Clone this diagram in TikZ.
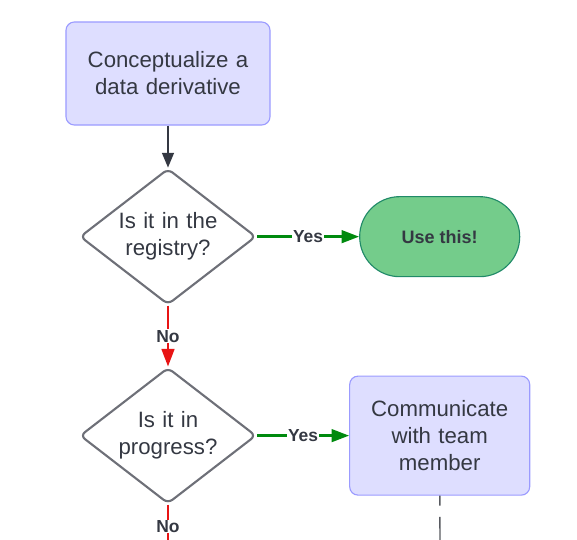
\documentclass[tikz,border=0pt]{standalone}
\usepackage{fontspec}
\setmainfont{Liberation Sans}
\usetikzlibrary{shapes.geometric, arrows.meta, positioning}

\definecolor{tinta}{RGB}{52,56,66}
\definecolor{lilas}{RGB}{222,222,255}
\definecolor{lilasBorda}{RGB}{155,155,255}
\definecolor{verdeCaixa}{RGB}{116,204,139}
\definecolor{verdeBorda}{RGB}{32,138,104}
\definecolor{verdeSeta}{RGB}{0,138,14}
\definecolor{vermelho}{RGB}{232,20,20}
\definecolor{cinza}{RGB}{110,112,120}

\begin{document}
\begin{tikzpicture}[x=0.025cm, y=-0.025cm]

% Estilos
\tikzset{
    caixa/.style={rectangle, rounded corners=6pt, draw=lilasBorda, fill=lilas, line width=0.8pt, text=tinta, inner sep=0pt, text width=5.1cm, minimum height=2.575cm, text centered, font=\fontsize{15.8}{19.2}\selectfont},
    decisao/.style={diamond, draw=cinza, line width=1.5pt, rounded corners=4pt, aspect=1.29, text=tinta, text width=2.6cm, inner sep=1pt, minimum width=4.4cm, minimum height=3.4cm, text centered, font=\fontsize{15.8}{19.2}\selectfont},
    terminal/.style={rectangle, rounded corners=1cm, draw=verdeBorda, fill=verdeCaixa, line width=0.8pt, text=tinta, minimum width=4cm, minimum height=2cm, font=\bfseries\fontsize{12.8}{15}\selectfont},
    rotulo/.style={fill=white, text=tinta, inner sep=0.5pt, font=\bfseries\fontsize{12.4}{14}\selectfont},
    seta/.style={->, >={Triangle[length=10.5pt, width=8.5pt]}, line width=1.1pt, draw=tinta},
    sim/.style={->, >={Triangle[length=12.5pt, width=9pt]}, line width=1.8pt, draw=verdeSeta},
    nao/.style={line width=1.8pt, draw=vermelho, >={Triangle[length=12.5pt, width=9pt]}},
    tracejado/.style={draw=cinza!80!black, line width=1pt, dash pattern=on 7pt off 8pt on 20pt off 8pt}
}

\useasboundingbox (0,0) rectangle (577,539);

% Caixas
\node (conceito) [caixa] at (168,73.5) {Conceptualize a\\ data derivative\\[4pt]};
\node (registro) [decisao, below=1.05cm of conceito] {Is it in the\\ registry?};
\node (usar) [terminal, right=2.55cm of registro] {Use this!};
\node (andamento) [decisao, below=1.52cm of registro] {Is it in\\ progress?};
\node (comunicar) [caixa, text width=4.5cm, minimum height=2.975cm, right=2.3cm of andamento] {Communicate\\ with team\\ member\\[4pt]};
\coordinate (fimNao) at (168,548);
\coordinate (fimComunicar) at (440,548);

% Ligações
\draw [seta] (conceito) -- (registro);
\draw [sim] (registro) -- node[rotulo] {Yes} (usar);
\draw [nao, ->] (registro) -- node[rotulo] {No} (andamento);
\draw [sim] (andamento) -- node[rotulo] {Yes} (comunicar);
\draw [nao] (andamento) -- node[rotulo] {No} (fimNao);
\draw [tracejado] (comunicar) -- (fimComunicar);

\end{tikzpicture}
\end{document}
